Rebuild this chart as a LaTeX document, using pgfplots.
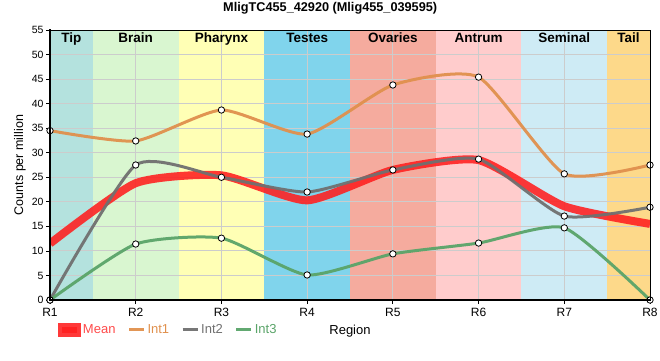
\documentclass[border=0pt]{standalone}
\usepackage{pgfplots}
\pgfplotsset{compat=1.18}
\usepackage{fontspec}
\setmainfont{Liberation Sans}
\setsansfont{Liberation Sans}
\definecolor{tipc}{HTML}{B4E2DE}
\definecolor{brainc}{HTML}{D9F6D0}
\definecolor{pharc}{HTML}{FFFFB5}
\definecolor{testc}{HTML}{80D4EC}
\definecolor{ovac}{HTML}{F5AB9E}
\definecolor{antc}{HTML}{FFCCCC}
\definecolor{semc}{HTML}{CEEBF5}
\definecolor{tailc}{HTML}{FDD98A}
\definecolor{meanc}{HTML}{FF1E1E}
\definecolor{meant}{HTML}{FF4A4A}
\definecolor{int1c}{HTML}{E0904D}
\definecolor{int2c}{HTML}{707070}
\definecolor{int3c}{HTML}{5AA469}
\definecolor{gridc}{HTML}{CCCCCC}
\newcommand{\bandfont}{\fontsize{13.5}{15}\selectfont\bfseries}
\begin{document}
\begin{tikzpicture}
\useasboundingbox (-50pt,-60pt) rectangle (610pt,300pt);
\begin{axis}[
  at={(0pt,0pt)}, anchor=south west,
  scale only axis, width=600pt, height=270pt,
  xmin=0, xmax=7, ymin=0, ymax=55,
  xtick={0,1,2,3,4,5,6,7},
  xticklabels={R1,R2,R3,R4,R5,R6,R7,R8},
  ytick={0,5,10,15,20,25,30,35,40,45,50,55},
  /pgf/number format/assume math mode=true,
  axis line style={draw=none},
  tick pos=left,
  tick align=outside, major tick length=4pt,
  tick style={black, line width=0.8pt},
  x tick label style={font=\fontsize{12}{14}\selectfont, yshift=-1pt},
  y tick label style={font=\fontsize{10.5}{12}\selectfont, xshift=1pt},
  ylabel={Counts per million},
  ylabel style={at={(axis description cs:-0.05,0.5)}, anchor=center, font=\fontsize{12.5}{14}\selectfont},
  xlabel={Region},
  xlabel style={at={(axis description cs:0.5,-0.115)}, anchor=center, font=\fontsize{13}{15}\selectfont},
  title={\bfseries MligTC455\_42920 (Mlig455\_039595)},
  every axis title shift=0pt,
  title style={at={(axis description cs:0.467,1.081)}, anchor=center, yshift=0pt, font=\fontsize{12.7}{15}\selectfont},
  legend style={at={(axis description cs:0.008,-0.111)}, anchor=west, legend columns=4, draw=none, fill=none,
    font=\fontsize{13}{15}\selectfont,
    /tikz/every even column/.append style={column sep=10pt}},
  legend cell align=left,
  legend image code/.code={\draw[#1, mark=none] (0pt,0pt) -- (15pt,0pt);},
]
% background bands
\addplot[fill=tipc, draw=none, forget plot] coordinates {(0,0) (0,55) (0.5,55) (0.5,0)} -- cycle;
\addplot[fill=brainc, draw=none, forget plot] coordinates {(0.5,0) (0.5,55) (1.5,55) (1.5,0)} -- cycle;
\addplot[fill=pharc, draw=none, forget plot] coordinates {(1.5,0) (1.5,55) (2.5,55) (2.5,0)} -- cycle;
\addplot[fill=testc, draw=none, forget plot] coordinates {(2.5,0) (2.5,55) (3.5,55) (3.5,0)} -- cycle;
\addplot[fill=ovac, draw=none, forget plot] coordinates {(3.5,0) (3.5,55) (4.5,55) (4.5,0)} -- cycle;
\addplot[fill=antc, draw=none, forget plot] coordinates {(4.5,0) (4.5,55) (5.5,55) (5.5,0)} -- cycle;
\addplot[fill=semc, draw=none, forget plot] coordinates {(5.5,0) (5.5,55) (6.5,55) (6.5,0)} -- cycle;
\addplot[fill=tailc, draw=none, forget plot] coordinates {(6.5,0) (6.5,55) (7,55) (7,0)} -- cycle;
% grid lines
\addplot[gridc, line width=1pt, forget plot, unbounded coords=jump] coordinates {
 (1,0) (1,55) (nan,nan) (2,0) (2,55) (nan,nan) (3,0) (3,55) (nan,nan)
 (4,0) (4,55) (nan,nan) (5,0) (5,55) (nan,nan) (6,0) (6,55) (nan,nan)
 (0,5) (7,5) (nan,nan) (0,10) (7,10) (nan,nan) (0,15) (7,15) (nan,nan)
 (0,20) (7,20) (nan,nan) (0,25) (7,25) (nan,nan) (0,30) (7,30) (nan,nan)
 (0,35) (7,35) (nan,nan) (0,40) (7,40) (nan,nan) (0,45) (7,45) (nan,nan)
 (0,50) (7,50)};
% series
\addplot[meanc, line width=8pt, opacity=0.88, no marks, smooth, tension=0.35,
  legend image code/.code={\fill[meanc] (0pt,-3pt) rectangle (15pt,3pt);}]
  coordinates {(0,11.5) (1,23.8) (2,25.4) (3,20.3) (4,26.5) (5,28.5) (6,19.1) (7,15.5)};
\addlegendentry{\textcolor{meant}{Mean}}
\addplot[int1c, line width=3pt, opacity=0.95, smooth, tension=0.35, mark=*, mark size=3.2pt,
  mark options={draw=black, line width=0.8pt, fill=white, fill opacity=0.5, opacity=1}]
  coordinates {(0,34.5) (1,32.4) (2,38.7) (3,33.8) (4,43.8) (5,45.4) (6,25.7) (7,27.5)};
\addlegendentry{\textcolor{int1c}{Int1}}
\addplot[int2c, line width=3pt, opacity=0.95, smooth, tension=0.35, mark=*, mark size=3.2pt,
  mark options={draw=black, line width=0.8pt, fill=white, fill opacity=0.5, opacity=1}]
  coordinates {(0,0) (1,27.5) (2,25.0) (3,22.0) (4,26.5) (5,28.7) (6,17.1) (7,18.9)};
\addlegendentry{\textcolor{int2c}{Int2}}
\addplot[int3c, line width=3pt, opacity=0.95, smooth, tension=0.35, mark=*, mark size=3.2pt,
  mark options={draw=black, line width=0.8pt, fill=white, fill opacity=0.5, opacity=1}]
  coordinates {(0,0) (1,11.4) (2,12.6) (3,5.1) (4,9.4) (5,11.6) (6,14.7) (7,0)};
\addlegendentry{\textcolor{int3c}{Int3}}
% band labels
\node[anchor=north, font=\bandfont, inner sep=3pt] at (axis cs:0.25,55) {Tip};
\node[anchor=north, font=\bandfont, inner sep=3pt] at (axis cs:1,55) {Brain};
\node[anchor=north, font=\bandfont, inner sep=3pt] at (axis cs:2,55) {Pharynx};
\node[anchor=north, font=\bandfont, inner sep=3pt] at (axis cs:3,55) {Testes};
\node[anchor=north, font=\bandfont, inner sep=3pt] at (axis cs:4,55) {Ovaries};
\node[anchor=north, font=\bandfont, inner sep=3pt] at (axis cs:5,55) {Antrum};
\node[anchor=north, font=\bandfont, inner sep=3pt] at (axis cs:6,55) {Seminal};
\node[anchor=north, font=\bandfont, inner sep=3pt] at (axis cs:6.75,55) {Tail};
\end{axis}
\draw[black, line width=1pt] (0pt,270pt) -- (600pt,270pt) -- (600pt,0pt);
\draw[black, line width=2.5pt] (0pt,271pt) -- (0pt,0pt) -- (601pt,0pt);
\end{tikzpicture}
\end{document}
